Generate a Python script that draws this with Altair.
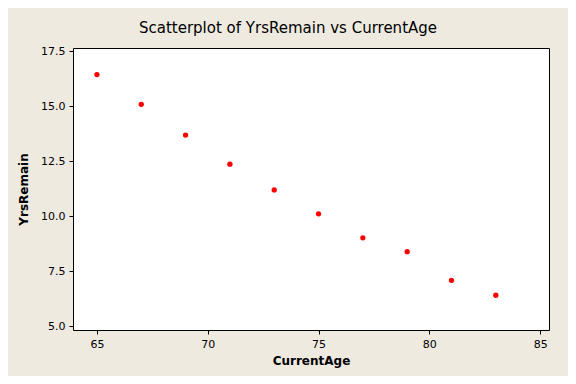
import altair as alt
import pandas as pd

current_age = [65, 67, 69, 71, 73, 75, 77, 79, 81, 83]
yrs_remain = [16.44, 15.09, 13.69, 12.37, 11.2, 10.11, 9.02, 8.39, 7.09, 6.41]
x_ticks = [65, 70, 75, 80, 85]
y_ticks = [5.0, 7.5, 10.0, 12.5, 15.0, 17.5]

df = pd.DataFrame({"CurrentAge": current_age, "YrsRemain": yrs_remain})

FONT = "DejaVu Sans"

chart = alt.Chart(df).mark_point(
    shape="circle", filled=True, color="#FF0000", size=28, opacity=1
).encode(
    x=alt.X("CurrentAge:Q",
            scale=alt.Scale(domain=[63.92, 85.4], nice=False, zero=False),
            axis=alt.Axis(values=x_ticks, format="d", title="CurrentAge",
                          grid=False, domain=False, tickColor="black", tickSize=4,
                          labelPadding=4, labelFont=FONT, labelFontSize=11,
                          labelColor="black", titleFont=FONT, titleFontSize=12,
                          titleFontWeight="bold", titleColor="black", titlePadding=6)),
    y=alt.Y("YrsRemain:Q",
            scale=alt.Scale(domain=[4.83, 17.65], nice=False, zero=False),
            axis=alt.Axis(values=y_ticks, format=".1f", title="YrsRemain",
                          grid=False, domain=False, tickColor="black", tickSize=4,
                          labelPadding=4, labelFont=FONT, labelFontSize=11,
                          labelColor="black", titleFont=FONT, titleFontSize=12,
                          titleFontWeight="bold", titleColor="black", titlePadding=10)),
).properties(
    width=476,
    height=282,
    title=alt.TitleParams(
        "Scatterplot of YrsRemain vs CurrentAge",
        font=FONT, fontSize=15, fontWeight="normal", color="black",
        anchor="middle", dx=-23, dy=18, offset=15, baseline="alphabetic",
    ),
    background="#EEEAE0",
    padding={"left": 65, "top": 40, "right": 19, "bottom": 46},
    autosize=alt.AutoSizeParams(type="none"),
).configure_view(
    fill="white", stroke="black", strokeWidth=1
)

chart.save("out.html", embed_options={"renderer": "svg", "actions": False})
